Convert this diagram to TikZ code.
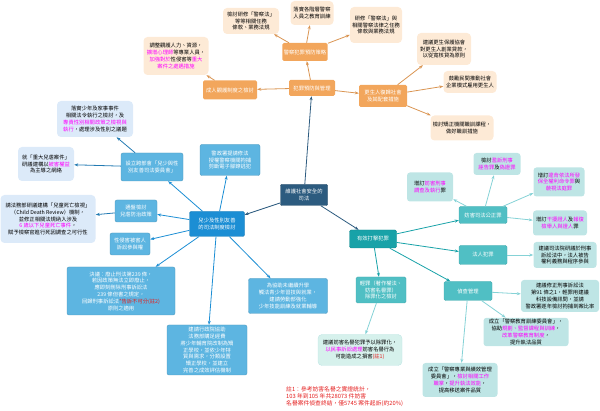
\documentclass[tikz,border=0pt]{standalone}
\usepackage{fontspec}
\setmainfont{Noto Sans CJK TC}
\usetikzlibrary{arrows.meta,positioning}
\definecolor{navyC}{HTML}{2C5B7F}
\definecolor{orgC}{HTML}{F2A65C}
\definecolor{peachC}{HTML}{FDEAD6}
\definecolor{blueA}{HTML}{1C8ED4}
\definecolor{blueB}{HTML}{5DB5E1}
\definecolor{blueL}{HTML}{DCEAF9}
\definecolor{tealA}{HTML}{18A2A8}
\definecolor{tealB}{HTML}{50BFC4}
\definecolor{tealL}{HTML}{BEE5E5}
\definecolor{tealX}{HTML}{D6F1EC}
\definecolor{magC}{HTML}{FF00FF}
\definecolor{redC}{HTML}{E41E1E}
\newcommand{\hlm}[1]{\textcolor{magC}{#1}}
\newcommand{\hlr}[1]{\textcolor{redC}{#1}}

\begin{document}
\begin{tikzpicture}[x=1pt, y=-1pt,
  every node/.style={font=\fontsize{5.3}{6.8}\selectfont, align=center, inner sep=1.5pt},
  hub/.style={fill=navyC, draw=navyC!80!black, text=white, rounded corners=1pt},
  omain/.style={fill=orgC, text=white, rounded corners=1.5pt},
  oleaf/.style={fill=peachC, text=black, rounded corners=4pt},
  bmain/.style={fill=blueA, draw=blueA!85!black, text=white, rounded corners=1.5pt},
  bsub/.style={fill=blueB, draw=blueB!85!black, text=white, rounded corners=2pt},
  bleaf/.style={fill=blueL, text=black, rounded corners=4pt},
  tmain/.style={fill=tealA, draw=tealA!85!black, text=white, rounded corners=1.5pt},
  tsub/.style={fill=tealB, draw=tealB!90!black, text=white, rounded corners=1.5pt},
  tleaf/.style={fill=tealL, text=black, rounded corners=3pt},
  tlite/.style={fill=tealX, draw=tealL, text=black, rounded corners=4pt},
  note/.style={font=\fontsize{5.8}{7.2}\selectfont, text=redC, align=left, inner sep=0pt},
  arrN/.style={-{Stealth[length=4pt,width=3pt]}, navyC, line width=0.8pt},
  arrO/.style={-{Stealth[length=4pt,width=3pt]}, orgC!90!black, line width=0.8pt},
  arrB/.style={-{Stealth[length=4pt,width=3pt]}, blueA, line width=0.8pt},
  arrS/.style={-{Stealth[length=4pt,width=3pt]}, blueA!60!navyC, line width=0.8pt},
  arrT/.style={-{Stealth[length=4pt,width=3pt]}, tealA, line width=0.8pt},
  arrL/.style={-{Stealth[length=4pt,width=3pt]}, tealB!70!white, line width=0.8pt},
]
\useasboundingbox (0,0) rectangle (600,411);

\node[hub, minimum width=47, minimum height=21] (hub) at (304,195) {維護社會安全的\\司法};

% crime prevention
\node[omain, minimum width=46, minimum height=16] (prev) at (312,88) {犯罪預防與管理};
\node[omain, minimum width=45, minimum height=18] (police) at (305,52) {警察犯罪預防策略};
\node[omain, minimum width=54, minimum height=19] (adult) at (230,90) {成人觀護制度之檢討};
\node[omain, minimum width=48, minimum height=22] (rehab) at (383,96) {更生人復歸社會\\及其配套措施};
\node[oleaf, minimum width=56, minimum height=26] (lawA) at (251,21) {檢討研修「警察法」\\等等相關任務\\條款、業務法規};
\node[oleaf, minimum width=43, minimum height=24] (train) at (312,13) {落實各階層警察\\人員之教育訓練};
\node[oleaf, minimum width=52, minimum height=36] (lawB) at (376,25) {研修「警察法」與\\相關警察法律之任務\\條款與業務法規};
\node[oleaf, minimum width=65, minimum height=38] (staff) at (176,56) {調整觀護人力、資源，\\\hlm{擴增心理師}等專業人員，\\\hlm{加強對於}性侵害等\hlm{重大}\\\hlm{案件之處遇措施}};
\node[oleaf, minimum width=54, minimum height=32] (loan) at (444,49) {建議更生保護協會\\對更生人創業貸款，\\以從寬核貸為原則};
\node[oleaf, minimum width=53, minimum height=22] (hire) at (470,82) {鼓勵民間推動社會\\企業模式雇用更生人};
\node[oleaf, minimum width=63, minimum height=25] (voc) at (462,128) {檢討矯正機關職訓課程，\\做好職訓措施};

% child and gender friendly justice
\node[bmain, minimum width=55, minimum height=25] (kids) at (217,224) {兒少及性別友善\\的司法制度檢討};
\node[bsub, minimum width=60, minimum height=31] (ankle) at (230,160) {警政署提請修法\\授權警察機關拘捕\\剪斷電子腳鐐逃犯};
\node[bsub, minimum width=62, minimum height=28] (comm) at (152,167) {設立跨部會「兒少與性\\別友善司法委員會」};
\node[bleaf, minimum width=76, minimum height=36] (family) at (95,119) {落實少年及家事事件\\相關法令執行之檢討，及\\\hlm{專責性別相關政策之檢視與}\\\hlm{執行}，處理涉及性別之議題};
\node[bleaf, minimum width=56, minimum height=34] (abuse) at (46,164) {就「重大兒虐案件」\\研議建構以\hlm{被害權益}\\為主導之網絡};
\node[bsub, minimum width=42, minimum height=22] (policy) at (136,211) {通盤檢討\\兒虐防治政策};
\node[bleaf, minimum width=95, minimum height=48] (cdr) at (48,219) {請法務部研議建構「兒童死亡檢視」\\（Child Death Review）機制，\\並修正相關法規納入涉及\\\hlm{6 歲以下兒童死亡事件}，\\賦予檢察官進行死因調查之可行性};
\node[bsub, minimum width=40, minimum height=22] (victim) at (130,244) {性侵害被害人\\訴訟參與權};
\node[bsub, minimum width=108, minimum height=48] (art239) at (121,291) {決議：廢止刑法第239 條，\\若因政策無法立即廢止，\\應即刻刪除刑事訴訟法\\239 條但書之規定，\\回歸刑事訴訟法\hlr{*告訴不可分(註2)}\\原則之適用};
\node[bsub, minimum width=80, minimum height=50] (school) at (207,350) {建請行政院協助\\法務部購足經費\\將少年輔育院改制為矯\\正學校，並依少年特\\質與需求，分類設置\\矯正學校，並建立\\完善之成效評估機制};
\node[bsub, minimum width=79, minimum height=35] (job) at (288,296) {為協助未繼續升學\\觸法青少年習技與就業，\\建請勞動部強化\\少年技能訓練及就業輔導};

% fighting crime
\node[tmain, minimum width=47, minimum height=18] (crime) at (373,239) {有效打擊犯罪};
\node[tsub, minimum width=48, minimum height=17] (justice) at (483,215) {妨害司法公正罪};
\node[tleaf, minimum width=46, minimum height=29] (obstr) at (430,187) {增訂\hlm{妨害刑事}\\\hlm{調查及執行}罪};
\node[tleaf, minimum width=47, minimum height=22] (perj) at (497,164) {檢討\hlm{濫訴刑事}\\\hlm{誣告罪}及\hlm{偽證罪}};
\node[tleaf, minimum width=51, minimum height=29] (contempt) at (559,182) {增訂\hlm{違背依法所發}\\\hlm{保全權利命令罪}與\\\hlm{藐視法庭罪}};
\node[tleaf, minimum width=54, minimum height=25] (witness) at (560,223) {增訂\hlm{干擾證人}及\hlm{報復}\\\hlm{檢舉人與證人}罪};
\node[tsub, minimum width=48, minimum height=19] (corp) at (483,255) {法人犯罪};
\node[tleaf, minimum width=63, minimum height=26] (corpleaf) at (565,255) {建議司法院研議於刑事\\訴訟法中，法人被告\\權利義務與程序參與};
\node[tsub, minimum width=48, minimum height=19] (invest) at (468,291) {偵查管理};
\node[tleaf, minimum width=78, minimum height=32] (tech) at (560,296) {建議修正刑事訴訟法\\第91 條之1，輕罪用建議\\科技設備訊問，並請\\警政署逐年檢討拘捕到案比率};
\node[tleaf, minimum width=85, minimum height=28] (edu) at (526,332) {成立「警察教育訓練委員會」，\\協助\hlm{規劃、監督課程與訓練}，\\\hlm{改革警察教育制度}，\\提升執法品質};
\node[tleaf, minimum width=75, minimum height=34] (perf) at (460,380) {成立「警察專業與績效管理\\委員會」，\hlm{檢討相關工作}\\\hlm{職掌}，\hlm{提升執法效能}，\\提高移送案件品質};
\node[tsub, minimum width=50, minimum height=26] (decrim) at (381,290) {輕罪（著作權法、\\妨害名譽罪）\\除罪化之檢討};
\node[tlite, minimum width=84, minimum height=31] (defam) at (360,350) {建議妨害名譽犯罪予以除罪化，\\\hlm{以民事訴訟處理}妨害名譽行為\\可能造成之損害\hlr{(註1)}};

\node[note, anchor=north west] (fn) at (286,386) {註1：參考妨害名譽之實證統計，\\103 年到105 年共28073 件妨害\\名譽案件偵查終結，僅5745 案件起訴(約20\%)};

\draw[arrN] (hub) -- (prev);
\draw[arrN] (hub) -- (kids);
\draw[arrN] (hub) -- (crime);

\draw[arrO] (prev) -- (police);
\draw[arrO] (prev) -- (adult);
\draw[arrO] (prev) -- (rehab);
\draw[arrO] (police) -- (lawA);
\draw[arrO] (police) -- (train);
\draw[arrO] (police) -- (lawB);
\draw[arrO] (adult) -- (staff);
\draw[arrO] (rehab) -- (loan);
\draw[arrO] (rehab) -- (hire);
\draw[arrO] (rehab) -- (voc);

\draw[arrB] (kids) -- (ankle);
\draw[arrB] (kids) -- (comm);
\draw[arrB] (kids) -- (policy);
\draw[arrB] (kids) -- (victim);
\draw[arrB] (kids) -- (art239);
\draw[arrB] (kids) -- (school);
\draw[arrB] (kids) -- (job);
\draw[arrS] (comm) -- (family);
\draw[arrS] (comm) -- (abuse);
\draw[arrS] (policy) -- (cdr);

\draw[arrT] (crime) -- (justice);
\draw[arrT] (crime) -- (corp);
\draw[arrT] (crime) -- (invest);
\draw[arrT] (crime) -- (decrim);
\draw[arrL] (justice) -- (obstr);
\draw[arrL] (justice) -- (perj);
\draw[arrL] (justice) -- (contempt);
\draw[arrL] (justice) -- (witness);
\draw[arrL] (corp) -- (corpleaf);
\draw[arrL] (invest) -- (tech);
\draw[arrL] (invest) -- (edu);
\draw[arrL] (invest) -- (perf);
\draw[arrL] (decrim) -- (defam);
\end{tikzpicture}
\end{document}
